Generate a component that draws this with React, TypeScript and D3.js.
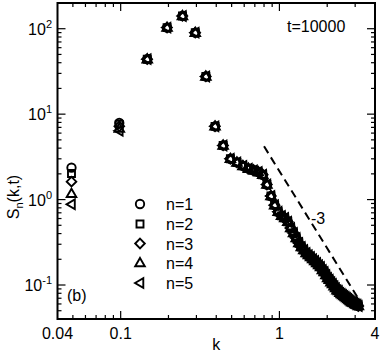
import React from 'react';
import * as d3 from 'd3';

// wavenumbers k
const kValues = [
  0.049, 0.098, 0.147, 0.196, 0.245, 0.295, 0.344, 0.393, 0.442, 0.491,
  0.540, 0.589, 0.638, 0.687, 0.736, 0.785, 0.834, 0.884, 0.933, 0.982,
  1.031, 1.080, 1.129, 1.178, 1.227, 1.276, 1.325, 1.374, 1.424, 1.473,
  1.522, 1.571, 1.620, 1.669, 1.718, 1.767, 1.816, 1.865, 1.914, 1.963,
  2.013, 2.062, 2.111, 2.160, 2.209, 2.258, 2.307, 2.356, 2.405, 2.454,
  2.503, 2.553, 2.602, 2.651, 2.700, 2.749, 2.798, 2.847, 2.896, 2.945,
  2.994, 3.043, 3.092, 3.142,
];

// common part of S_n(k,t) for all n (from the 3rd k on)
const sharedS = [
  44, 103, 141, 90, 27.6, 7.2, 4.3, 3.0, 2.72, 2.48,
  2.3, 2.2, 2.1, 1.95, 1.5, 1.1, 0.86, 0.72, 0.645, 0.61,
  0.55, 0.465, 0.406, 0.355, 0.31, 0.279, 0.257, 0.237, 0.224, 0.213,
  0.201, 0.191, 0.181, 0.171, 0.163, 0.15, 0.142, 0.131, 0.121, 0.115,
  0.108, 0.103, 0.097, 0.092, 0.087, 0.085, 0.081, 0.0785, 0.0764, 0.0744,
  0.0724, 0.0705, 0.0686, 0.0668, 0.065, 0.0633, 0.0624, 0.0616, 0.06, 0.0592,
  0.0583, 0.0568,
];

// first two k values differ per n
const seriesN1 = [2.36, 7.9];
const seriesN2 = [2.02, 7.6];
const seriesN3 = [1.62, 7.2];
const seriesN4 = [1.17, 6.8];
const seriesN5 = [0.88, 6.4];

const seriesNames = ['n=1', 'n=2', 'n=3', 'n=4', 'n=5'];
const seriesHeads = [seriesN1, seriesN2, seriesN3, seriesN4, seriesN5];

const slopeK = [0.8, 3.1];
const slopeAmp = 2.15;
const slopeExp = -3;

const xTickLabels = ['0.04', '0.1', '1', '4'];
const xTickValues = [0.04, 0.1, 1, 4];
const yTickValues = [0.1, 1, 10, 100];
const yTickExps = ['-1', '0', '1', '2'];

const W = 383, H = 353;
const L = 57.5, R = 375, T = 3, B = 319;
const FONT = 'Liberation Sans, Arial, Helvetica, sans-serif';

function markerPath(i: number): string {
  switch (i) {
    case 0: return 'M4.2,0A4.2,4.2 0 1,1 -4.2,0A4.2,4.2 0 1,1 4.2,0Z';
    case 1: return 'M-3.5,-3.5H3.5V3.5H-3.5Z';
    case 2: return 'M0,-4.8L4.8,0L0,4.8L-4.8,0Z';
    case 3: return 'M0,-5L4.8,3.3L-4.8,3.3Z';
    default: return 'M-5,0L3.3,-4.8L3.3,4.8Z';
  }
}

export default function App() {
  const x = d3.scaleLog().domain([0.04, 4]).range([L, R]);
  const y = d3.scaleLog().domain([0.04, 200]).range([B, T]);

  const series = seriesHeads.map((h) => [...h, ...sharedS]);

  const xMinor: number[] = [];
  [0.01, 0.1, 1].forEach((d) => {
    for (let i = 2; i <= 9; i++) {
      const v = d * i;
      if (v > 0.04 && v < 4 && Math.abs(v - 0.1) > 1e-9 && Math.abs(v - 1) > 1e-9) xMinor.push(v);
    }
  });
  const yMinor: number[] = [];
  [0.01, 0.1, 1, 10, 100].forEach((d) => {
    for (let i = 2; i <= 9; i++) {
      const v = d * i;
      if (v > 0.04 && v <= 200) yMinor.push(v);
    }
  });

  const slopeLine = d3.line<number>()
    .x((k) => x(k))
    .y((k) => y(slopeAmp * Math.pow(k, slopeExp)));

  const legendY = [204, 224, 243.5, 263, 283];

  return (
    <svg width={W} height={H} style={{ position: 'absolute', left: 0, top: 0, background: '#fff' }}
      fontFamily={FONT}>
      <rect x={0} y={0} width={W} height={H} fill="#fff" />
      {/* ticks */}
      <g stroke="#000" strokeWidth={1.2}>
        {[0.1, 1].map((v) => (
          <g key={'xM' + v}>
            <line x1={x(v)} x2={x(v)} y1={B} y2={B - 8} />
            <line x1={x(v)} x2={x(v)} y1={T} y2={T + 8} />
          </g>
        ))}
        {xMinor.map((v) => (
          <g key={'xm' + v}>
            <line x1={x(v)} x2={x(v)} y1={B} y2={B - 4} />
            <line x1={x(v)} x2={x(v)} y1={T} y2={T + 4} />
          </g>
        ))}
        {yTickValues.map((v) => (
          <g key={'yM' + v}>
            <line x1={L} x2={L + 8} y1={y(v)} y2={y(v)} />
            <line x1={R} x2={R - 8} y1={y(v)} y2={y(v)} />
          </g>
        ))}
        {yMinor.map((v) => (
          <g key={'ym' + v}>
            <line x1={L} x2={L + 4} y1={y(v)} y2={y(v)} />
            <line x1={R} x2={R - 4} y1={y(v)} y2={y(v)} />
          </g>
        ))}
      </g>
      <rect x={L} y={T} width={R - L} height={B - T} fill="none" stroke="#000" strokeWidth={2} />

      {/* tick labels */}
      <g fontSize={16} fill="#000">
        {xTickValues.map((v, i) => (
          <text key={'xl' + v} x={x(v)} y={339} textAnchor="middle">{xTickLabels[i]}</text>
        ))}
        {yTickValues.map((v, i) => (
          <text key={'yl' + v} x={52} y={y(v) + 6} textAnchor="end">
            10<tspan dy={-7} fontSize={11}>{yTickExps[i]}</tspan>
          </text>
        ))}
      </g>

      {/* axis titles */}
      <text x={(L + R) / 2} y={350} textAnchor="middle" fontSize={16}>k</text>
      <text transform="translate(19,197) rotate(-90)" textAnchor="middle" fontSize={16}>
        S<tspan dy={4} fontSize={11}>n</tspan><tspan dy={-4}>(k,t)</tspan>
      </text>

      {/* annotations */}
      <text x={287} y={32} fontSize={16}>t=10000</text>
      <text x={67} y={301} fontSize={16}>(b)</text>
      <text x={311} y={224} fontSize={16}>-3</text>

      {/* slope line */}
      <path d={slopeLine(slopeK) || ''} fill="none" stroke="#000" strokeWidth={2} strokeDasharray="8,5" />

      {/* data */}
      <g clipPath="url(#clip)">
        {series.map((s, si) => (
          <g key={'s' + si}>
            {s.map((v, i) => (
              <path key={i} d={markerPath(si)} transform={`translate(${x(kValues[i])},${y(v)})`}
                fill="none" stroke="#000" strokeWidth={1.9} />
            ))}
          </g>
        ))}
      </g>
      <defs>
        <clipPath id="clip"><rect x={L} y={T} width={R - L} height={B - T} /></clipPath>
      </defs>

      {/* legend */}
      {seriesNames.map((n, i) => (
        <g key={'lg' + n}>
          <path d={markerPath(i)} transform={`translate(140,${legendY[i]})`} fill="none" stroke="#000" strokeWidth={1.9} />
          <text x={166} y={legendY[i] + 6} fontSize={16}>{n}</text>
        </g>
      ))}
    </svg>
  );
}
